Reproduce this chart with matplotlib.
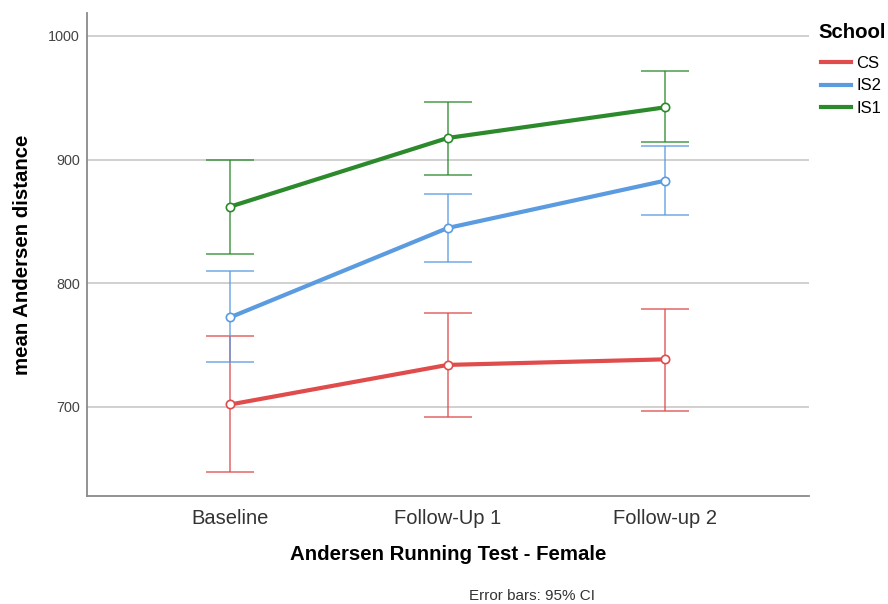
import matplotlib
matplotlib.use("Agg")
import matplotlib.pyplot as plt

plt.rcParams["font.family"] = ["Liberation Sans", "DejaVu Sans"]

# time points and school groups
timepoints = ["Baseline", "Follow-Up 1", "Follow-up 2"]
schools = ["CS", "IS2", "IS1"]
colors = ["#e04b4b", "#5b9be0", "#2c8a2c"]

# mean Andersen distance per school at each time point
cs_mean = [702, 734, 738.5]
is2_mean = [772.5, 844.7, 883]
is1_mean = [862, 917.5, 942.3]

# 95% CI bounds
cs_low = [647.5, 692.2, 697]
cs_high = [757, 775.7, 779]
is2_low = [736, 816.9, 855.5]
is2_high = [810, 872.5, 911]
is1_low = [824, 887.6, 914]
is1_high = [900, 946.4, 971.3]

means = [cs_mean, is2_mean, is1_mean]
lows = [cs_low, is2_low, is1_low]
highs = [cs_high, is2_high, is1_high]

fig = plt.figure(figsize=(8.88, 6.04), dpi=100)
ax = fig.add_axes([86.7 / 888, 1 - 496 / 604, (808.7 - 86.7) / 888, (496 - 12.7) / 604])

x = list(range(len(timepoints)))
for name, col, m, lo, hi in zip(schools, colors, means, lows, highs):
    yerr = [[mm - l for mm, l in zip(m, lo)], [h - mm for mm, h in zip(m, hi)]]
    ax.errorbar(x, m, yerr=yerr, fmt="none", ecolor=col, elinewidth=1.1,
                capsize=17, capthick=1.1, alpha=0.85, zorder=3)
    ax.plot(x, m, color=col, lw=3, marker="o", ms=6, mfc="white",
            mec=col, mew=1.2, label=name, zorder=4)

ax.set_xlim(-0.66, 2.66)
ax.set_ylim(628, 1018.8)
ax.set_yticks([700, 800, 900, 1000])
ax.set_xticks(x)
ax.set_xticklabels(timepoints, fontsize=14.5, color="#333333")
ax.tick_params(axis="x", length=0, pad=9)
ax.tick_params(axis="y", length=0, pad=5, labelsize=10.4, labelcolor="#444444")

ax.grid(axis="y", color="#c8c8c8", lw=1.2)
ax.set_axisbelow(True)
for side in ["top", "right"]:
    ax.spines[side].set_visible(False)
for side in ["left", "bottom"]:
    ax.spines[side].set_color("#8a8a8a")
    ax.spines[side].set_linewidth(1.3)

fig.text(447.7 / 888, 1 - 555 / 604, "Andersen Running Test - Female",
         ha="center", va="center", fontsize=14.7, fontweight="bold")
fig.text(23 / 888, 1 - 255 / 604, "mean Andersen distance", rotation=90,
         ha="center", va="center", fontsize=14.7, fontweight="bold")
fig.text(532 / 888, 1 - 596 / 604, "Error bars: 95% CI",
         ha="center", va="center", fontsize=11, color="#333333")

# legend title drawn separately so it can sit above the entries
fig.text(818 / 888, 1 - 33 / 604, "School", ha="left", va="center",
         fontsize=14.7, fontweight="bold")
leg = ax.legend(loc="upper left", bbox_to_anchor=(821 / 888, 1 - 56 / 604),
                bbox_transform=fig.transFigure, frameon=False,
                fontsize=12, handlelength=1.8, handletextpad=0.3,
                labelspacing=0.45, borderaxespad=0, borderpad=0)
for h in leg.legend_handles:
    h.set_marker("")
    h.set_linewidth(3)

fig.savefig("out.png", dpi=100)
